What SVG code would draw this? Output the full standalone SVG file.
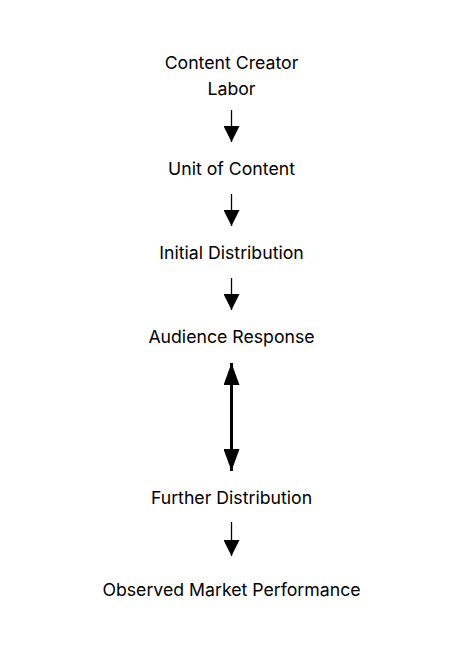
<svg xmlns="http://www.w3.org/2000/svg" width="463" height="662" viewBox="0 0 463 662">
<style>
text{font-family:Inter,"Liberation Sans",sans-serif;font-size:17.7px;fill:#000;text-anchor:middle}
.e{stroke:#000;stroke-width:1.3;fill:none}
.b{stroke:#000;stroke-width:3;fill:none}
</style>
<defs>
<marker id="a" viewBox="0 0 16 16" refX="16" refY="8" markerWidth="16" markerHeight="16" markerUnits="userSpaceOnUse" orient="auto"><path d="M0,0L16,8L0,16Z" fill="#000"/></marker>
<marker id="s" viewBox="0 0 22 16" refX="22" refY="8" markerWidth="22" markerHeight="16" markerUnits="userSpaceOnUse" orient="auto-start-reverse"><path d="M0,0L22,8L0,16Z" fill="#000"/></marker>
</defs>
<rect width="463" height="662" fill="#fff"/>
<g id="n1"><text x="231.5" y="69">Content Creator</text><text x="231.5" y="95">Labor</text></g>
<g id="n2"><text x="231.5" y="175">Unit of Content</text></g>
<g id="n3"><text x="231.5" y="259">Initial Distribution</text></g>
<g id="n4"><text x="231.5" y="343">Audience Response</text></g>
<g id="n5"><text x="231.5" y="504">Further Distribution</text></g>
<g id="n6"><text x="231.5" y="596">Observed Market Performance</text></g>
<g id="edges">
<path class="e" d="M231.5,110V142" marker-end="url(#a)"/>
<path class="e" d="M231.5,194V226" marker-end="url(#a)"/>
<path class="e" d="M231.5,278V310" marker-end="url(#a)"/>
<path class="b" d="M231.5,363V471" marker-start="url(#s)" marker-end="url(#s)"/>
<path class="e" d="M231.5,522V556" marker-end="url(#a)"/>
</g>
</svg>
